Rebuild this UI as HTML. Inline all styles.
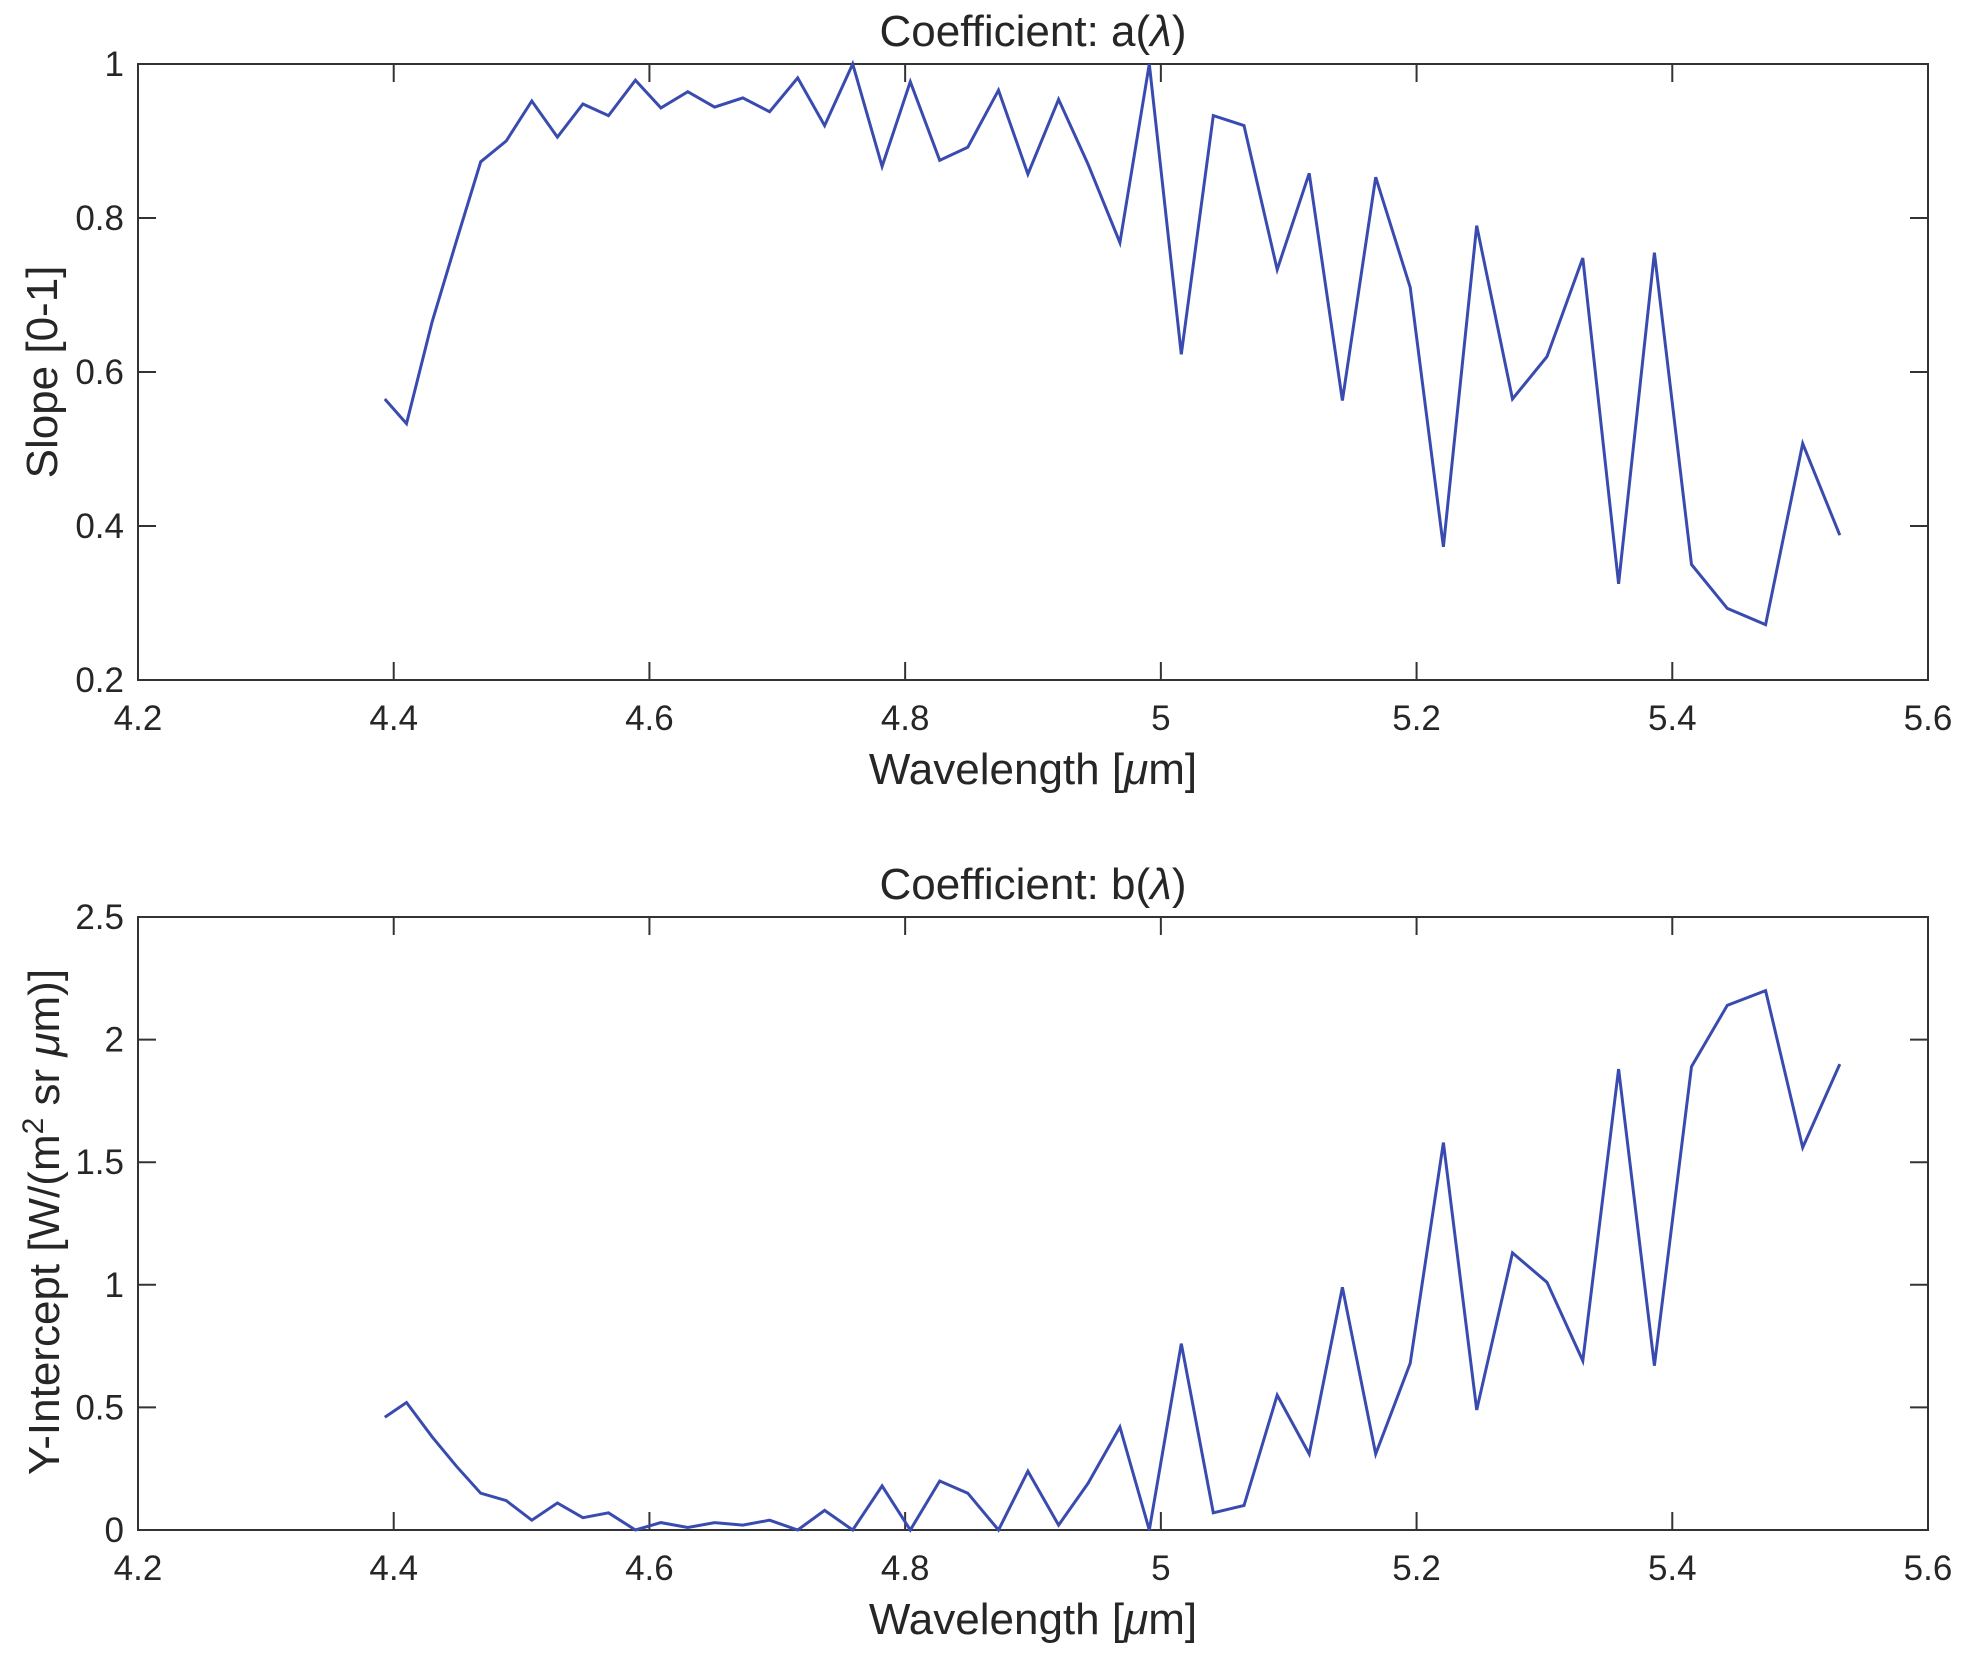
<!DOCTYPE html>
<html><head><meta charset="utf-8"><style>
html,body{margin:0;padding:0;background:#fff}
svg{display:block}
text{font-family:"Liberation Sans",Arial,sans-serif;fill:#262626}
</style></head><body>
<svg id="fig" width="1963" height="1659" viewBox="0 0 1963 1659"></svg>
<script>
const wavelengths=[4.393,4.410,4.430,4.449,4.468,4.488,4.508,4.528,4.548,4.568,4.589,4.609,4.630,4.651,4.673,4.694,4.716,4.737,4.759,4.782,4.804,4.827,4.849,4.873,4.896,4.920,4.943,4.968,4.991,5.016,5.041,5.065,5.091,5.116,5.142,5.168,5.195,5.221,5.247,5.275,5.302,5.330,5.358,5.386,5.415,5.443,5.473,5.502,5.531];
const slopeValues=[0.565,0.533,0.665,0.77,0.873,0.900,0.952,0.905,0.948,0.933,0.979,0.943,0.964,0.944,0.956,0.938,0.982,0.920,1.0,0.867,0.977,0.875,0.892,0.966,0.857,0.954,0.870,0.768,1.0,0.623,0.933,0.920,0.733,0.858,0.563,0.853,0.710,0.373,0.790,0.565,0.620,0.748,0.325,0.755,0.350,0.293,0.272,0.507,0.388];
const interceptValues=[0.46,0.52,0.38,0.26,0.15,0.12,0.04,0.11,0.05,0.07,0.0,0.03,0.01,0.03,0.02,0.04,0.0,0.08,0.0,0.18,0.0,0.20,0.15,0.0,0.24,0.02,0.19,0.42,0.0,0.76,0.07,0.10,0.55,0.31,0.99,0.31,0.68,1.58,0.49,1.13,1.01,0.69,1.88,0.67,1.89,2.14,2.20,1.56,1.90];
const xTicks=[4.2,4.4,4.6,4.8,5,5.2,5.4,5.6];
const xTickLabels=["4.2","4.4","4.6","4.8","5","5.2","5.4","5.6"];
const yTicksA=[0.2,0.4,0.6,0.8,1];
const yTickLabelsA=["0.2","0.4","0.6","0.8","1"];
const yTicksB=[0,0.5,1,1.5,2,2.5];
const yTickLabelsB=["0","0.5","1","1.5","2","2.5"];

const NS="http://www.w3.org/2000/svg";
const svg=document.getElementById('fig');
function mk(tag,attrs,parent){const e=document.createElementNS(NS,tag);for(const k in attrs)e.setAttribute(k,attrs[k]);(parent||svg).appendChild(e);return e;}

function panel(o){
  const L=138,R=1928,T=o.top,B=o.bottom;
  const sx=v=>L+(v-4.2)/(5.6-4.2)*(R-L);
  const sy=v=>B-(v-o.ymin)/(o.ymax-o.ymin)*(B-T);
  const g=mk('g',{});
  
  
  const box=mk('rect',{x:L,y:T,width:R-L,height:B-T,fill:'none',stroke:'#333','stroke-width':2},g);
  
  
  xTicks.forEach((t,i)=>{
    const x=sx(t);
    mk('line',{x1:x,y1:B,x2:x,y2:B-18,stroke:'#333','stroke-width':2},g);
    mk('line',{x1:x,y1:T,x2:x,y2:T+18,stroke:'#333','stroke-width':2},g);
    const tx=mk('text',{x:x,y:B+50,'text-anchor':'middle','font-size':35,fill:'#404040'},g);
    tx.textContent=xTickLabels[i];
    
    
  });
  o.yt.forEach((t,i)=>{
    const y=sy(t);
    mk('line',{x1:L,y1:y,x2:L+18,y2:y,stroke:'#333','stroke-width':2},g);
    mk('line',{x1:R,y1:y,x2:R-18,y2:y,stroke:'#333','stroke-width':2},g);
    const tx=mk('text',{x:L-14,y:y+12,'text-anchor':'end','font-size':35,fill:'#404040'},g);
    tx.textContent=o.ytl[i];
    
    
  });
  const pts=wavelengths.map((w,i)=>sx(w).toFixed(1)+','+sy(o.vals[i]).toFixed(1)).join(' ');
  const line=mk('polyline',{points:pts,fill:'none',stroke:'#3a4bb0','stroke-width':3,'stroke-linejoin':'miter'},g);
  
  
  const title=mk('text',{x:(L+R)/2,y:T-18,'text-anchor':'middle','font-size':44},g);
  title.innerHTML=o.title;
  
  
  const xl=mk('text',{x:(L+R)/2,y:B+104,'text-anchor':'middle','font-size':44,fill:'#333'},g);
  xl.innerHTML='Wavelength [<tspan font-style="italic">μ</tspan>m]';
  
  
  const yl=mk('text',{x:0,y:0,'text-anchor':'middle','font-size':44,fill:'#262626',transform:'translate('+o.ylx+','+o.lyc+') rotate(-90)'},g);
  yl.innerHTML=o.ylabel;
  
  
}
panel({name:'slope-chart',top:64,bottom:680,ymin:0.2,ymax:1,yt:yTicksA,ytl:yTickLabelsA,vals:slopeValues,
  title:'Coefficient: a(<tspan font-style="italic">λ</tspan>)',ylabel:'Slope [0-1]',ylx:57,lyc:372});
panel({name:'intercept-chart',top:917,bottom:1530,ymin:0,ymax:2.5,yt:yTicksB,ytl:yTickLabelsB,vals:interceptValues,
  title:'Coefficient: b(<tspan font-style="italic">λ</tspan>)',ylabel:'Y-Intercept [W/(m<tspan dy="-16" font-size="30">2</tspan><tspan dy="16"> sr </tspan><tspan font-style="italic">μ</tspan>m)]',ylx:59,lyc:1222});
</script>
</body></html>
